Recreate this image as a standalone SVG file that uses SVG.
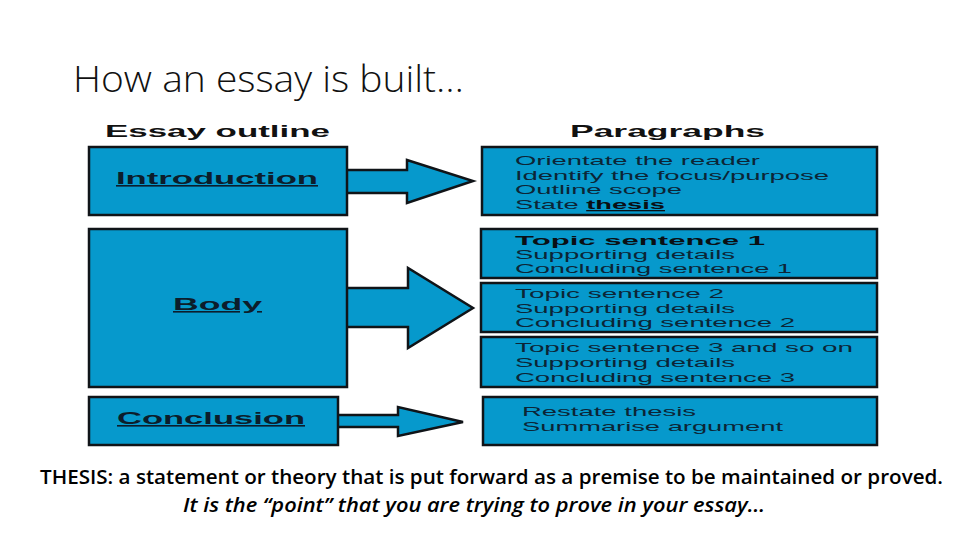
<svg xmlns="http://www.w3.org/2000/svg" width="960" height="540" viewBox="0 0 960 540">
<style>
.box{fill:#0699cc;stroke:#101418;stroke-width:2.5}
.arr{fill:#0699cc;stroke:#101418;stroke-width:2.5;stroke-linejoin:miter}
.hd{font-family:"Liberation Sans",Arial,sans-serif;font-weight:bold;font-size:17px;fill:#111}
.lbl{font-family:"Liberation Sans",Arial,sans-serif;font-weight:bold;font-size:16px;fill:#0c1d2b;text-decoration:underline}
.p{font-family:"Liberation Sans",Arial,sans-serif;font-size:13px;fill:#0c2536}
.pb{font-family:"Liberation Sans",Arial,sans-serif;font-size:13px;font-weight:bold;fill:#0a0f14}
.cap{font-family:"Open Sans","Noto Sans",sans-serif;font-size:19px;font-weight:600;fill:#000}
</style>
<rect width="960" height="540" fill="#fff"/>
<text x="73" y="92" font-family="'Open Sans','Noto Sans',sans-serif" font-weight="300" font-size="36" fill="#111" textLength="391" lengthAdjust="spacingAndGlyphs">How an essay is built…</text>
<text class="hd" x="105" y="137" textLength="225" lengthAdjust="spacingAndGlyphs">Essay outline</text>
<text class="hd" x="570" y="137" textLength="195" lengthAdjust="spacingAndGlyphs">Paragraphs</text>
<g id="connectors">
<path class="arr" d="M347,170 H407 V160 L473,181 L407,203 V193 H347"/>
<path class="arr" d="M347,288 H408 V268 L473,308 L408,348 V327 H347"/>
<path class="arr" d="M338,415 H398 V407 L463,422 L398,436 V427 H338"/>
</g>
<g id="introduction"><rect class="box" x="89" y="147" width="258" height="68"/><text class="lbl" x="116" y="184" textLength="202" lengthAdjust="spacingAndGlyphs">Introduction</text></g>
<g id="body"><rect class="box" x="89" y="229" width="258" height="158"/><text class="lbl" x="173" y="310" textLength="89" lengthAdjust="spacingAndGlyphs">Body</text></g>
<g id="conclusion"><rect class="box" x="89" y="397" width="249" height="48"/><text class="lbl" x="117" y="424" textLength="188" lengthAdjust="spacingAndGlyphs">Conclusion</text></g>
<g id="para-intro"><rect class="box" x="482" y="147" width="395" height="68"/>
<text class="p" x="515" y="165" textLength="245" lengthAdjust="spacingAndGlyphs">Orientate the reader</text>
<text class="p" x="515" y="180" textLength="314" lengthAdjust="spacingAndGlyphs">Identify the focus/purpose</text>
<text class="p" x="515" y="194" textLength="167" lengthAdjust="spacingAndGlyphs">Outline scope</text>
<text class="p" x="515" y="209" textLength="150" lengthAdjust="spacingAndGlyphs">State <tspan font-weight="bold" fill="#0a0f14" text-decoration="underline">thesis</tspan></text>
</g>
<g id="para-topic1"><rect class="box" x="481" y="229" width="396" height="49"/>
<text class="pb" x="515" y="245" textLength="250" lengthAdjust="spacingAndGlyphs">Topic sentence 1</text>
<text class="p" x="515" y="259" textLength="220" lengthAdjust="spacingAndGlyphs">Supporting details</text>
<text class="p" x="515" y="273" textLength="277" lengthAdjust="spacingAndGlyphs">Concluding sentence 1</text>
</g>
<g id="para-topic2"><rect class="box" x="481" y="283" width="396" height="49"/>
<text class="p" x="515" y="298" textLength="209" lengthAdjust="spacingAndGlyphs">Topic sentence 2</text>
<text class="p" x="515" y="313" textLength="220" lengthAdjust="spacingAndGlyphs">Supporting details</text>
<text class="p" x="515" y="327" textLength="280" lengthAdjust="spacingAndGlyphs">Concluding sentence 2</text>
</g>
<g id="para-topic3"><rect class="box" x="481" y="337" width="396" height="50"/>
<text class="p" x="515" y="352" textLength="338" lengthAdjust="spacingAndGlyphs">Topic sentence 3 and so on</text>
<text class="p" x="515" y="367" textLength="220" lengthAdjust="spacingAndGlyphs">Supporting details</text>
<text class="p" x="515" y="382" textLength="280" lengthAdjust="spacingAndGlyphs">Concluding sentence 3</text>
</g>
<g id="para-conclusion"><rect class="box" x="483" y="397" width="394" height="48"/>
<text class="p" x="522" y="416" textLength="174" lengthAdjust="spacingAndGlyphs">Restate thesis</text>
<text class="p" x="522" y="431" textLength="261" lengthAdjust="spacingAndGlyphs">Summarise argument</text>
</g>
<text class="cap" x="40" y="484" textLength="903" lengthAdjust="spacingAndGlyphs">THESIS: a statement or theory that is put forward as a premise to be maintained or proved.</text>
<text class="cap" x="183" y="512" font-style="italic" textLength="582" lengthAdjust="spacingAndGlyphs">It is the “point” that you are trying to prove in your essay…</text>
</svg>
